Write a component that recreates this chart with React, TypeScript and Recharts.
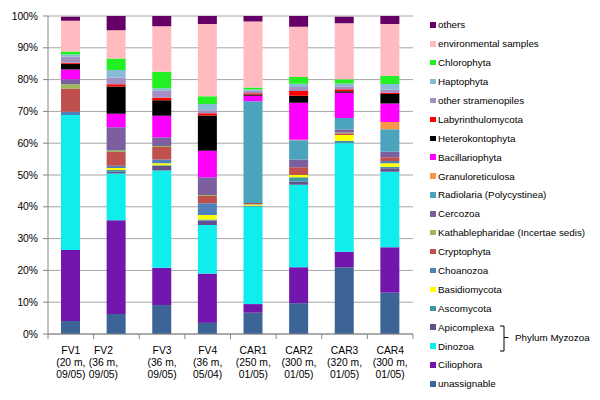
import React from 'react';
import { BarChart, Bar, XAxis, YAxis, CartesianGrid } from 'recharts';

const samples = ['FV1', 'FV2', 'FV3', 'FV4', 'CAR1', 'CAR2', 'CAR3', 'CAR4'];
const depths = ['(20 m,', '(36 m,', '(36 m,', '(36 m,', '(250 m,', '(300 m,', '(320 m,', '(300 m,'];
const dates = ['09/05)', '09/05)', '09/05)', '05/04)', '01/05)', '01/05)', '01/05)', '01/05)'];
const yTicks = [0, 10, 20, 30, 40, 50, 60, 70, 80, 90, 100];

// values in % per sample (FV1..CAR4), bottom of stack first
const unassignable = [4.1, 6.3, 9.1, 3.5, 6.7, 9.7, 21.0, 13.0];
const ciliophora = [22.3, 29.5, 11.7, 15.5, 2.7, 11.3, 4.9, 14.3];
const dinozoa = [42.5, 14.7, 30.6, 15.3, 30.6, 25.9, 34.1, 23.7];
const apicomplexa = [0, 0.5, 1.4, 1.4, 0, 1.0, 0, 1.1];
const ascomycota = [0, 0.6, 0.3, 0.3, 0.3, 1.4, 0.8, 0.5];
const basidiomycota = [0, 0.6, 0.6, 1.4, 0.4, 0.7, 1.8, 1.1];
const choanozoa = [1.0, 0.7, 1.2, 3.7, 0.2, 0, 0, 0.7];
const cryptophyta = [7.3, 4.3, 3.9, 2.3, 0.3, 2.4, 0.5, 1.2];
const kathablepharidae = [1.3, 0.5, 0.3, 0.3, 0, 0, 0.3, 0];
const cercozoa = [1.6, 7.3, 2.8, 5.6, 0, 2.5, 0.9, 1.7];
const radiolaria = [0, 0, 0, 0, 32.0, 6.0, 3.6, 7.1];
const granuloreticulosa = [0, 0, 0, 0, 0, 0.2, 0, 2.3];
const bacillariophyta = [3.1, 4.3, 6.7, 8.3, 1.7, 11.6, 8.0, 5.8];
const heterokontophyta = [1.8, 8.5, 4.9, 11.1, 0.4, 2.2, 0.4, 3.0];
const labyrinthulomycota = [0.3, 0.7, 0.8, 0.7, 0.4, 1.5, 0.7, 0.4];
const otherStramenopiles = [2.0, 2.1, 2.2, 1.0, 0.8, 1.3, 0.9, 1.0];
const haptophyta = [0.6, 2.4, 0.8, 1.9, 0.4, 1.0, 0.9, 1.7];
const chlorophyta = [0.9, 3.6, 5.2, 2.5, 0.6, 2.1, 1.3, 2.5];
const environmental = [9.7, 8.9, 14.3, 22.7, 20.8, 15.8, 17.6, 16.4];
const others = [1.3, 4.7, 3.2, 2.5, 1.7, 3.6, 2.1, 2.5];

const series = [
  { key: 'unassignable', name: 'unassignable', color: '#3C6496', values: unassignable },
  { key: 'ciliophora', name: 'Ciliophora', color: '#7216AE', values: ciliophora },
  { key: 'dinozoa', name: 'Dinozoa', color: '#0FEDED', values: dinozoa },
  { key: 'apicomplexa', name: 'Apicomplexa', color: '#66508C', values: apicomplexa },
  { key: 'ascomycota', name: 'Ascomycota', color: '#3F97A6', values: ascomycota },
  { key: 'basidiomycota', name: 'Basidiomycota', color: '#FFFF00', values: basidiomycota },
  { key: 'choanozoa', name: 'Choanozoa', color: '#4F81BD', values: choanozoa },
  { key: 'cryptophyta', name: 'Cryptophyta', color: '#C0504D', values: cryptophyta },
  { key: 'kathablepharidae', name: 'Kathablepharidae (Incertae sedis)', color: '#9BBB59', values: kathablepharidae },
  { key: 'cercozoa', name: 'Cercozoa', color: '#7B5FA0', values: cercozoa },
  { key: 'radiolaria', name: 'Radiolaria (Polycystinea)', color: '#4BA3BE', values: radiolaria },
  { key: 'granuloreticulosa', name: 'Granuloreticulosa', color: '#F79646', values: granuloreticulosa },
  { key: 'bacillariophyta', name: 'Bacillariophyta', color: '#FF00FF', values: bacillariophyta },
  { key: 'heterokontophyta', name: 'Heterokontophyta', color: '#000000', values: heterokontophyta },
  { key: 'labyrinthulomycota', name: 'Labyrinthulomycota', color: '#FF0000', values: labyrinthulomycota },
  { key: 'otherStramenopiles', name: 'other stramenopiles', color: '#A490C2', values: otherStramenopiles },
  { key: 'haptophyta', name: 'Haptophyta', color: '#87BBD6', values: haptophyta },
  { key: 'chlorophyta', name: 'Chlorophyta', color: '#22F022', values: chlorophyta },
  { key: 'environmental', name: 'environmental samples', color: '#FFBBC0', values: environmental },
  { key: 'others', name: 'others', color: '#660066', values: others },
];

const data = samples.map((s, i) => {
  const row: Record<string, any> = { sample: s, depth: depths[i], date: dates[i] };
  series.forEach((ser) => {
    row[ser.key] = ser.values[i];
  });
  return row;
});

const FONT = '"Liberation Sans", Arial, sans-serif';
const AXIS_COLOR = '#868686';
const GRID_COLOR = '#A6A6A6';
const PLOT_LEFT = 48;
const PLOT_RIGHT = 413;
const BAND = (PLOT_RIGHT - PLOT_LEFT) / samples.length;

const XTick = (props: any) => {
  const { x, y, payload, index } = props;
  const half = BAND / 2;
  const i = payload.index ?? index;
  const dx = i === 1 ? -13 : 0;
  const tx = x + dx;
  return (
    <g>
      <line x1={x - half} y1={y} x2={x - half} y2={y + 5} stroke={AXIS_COLOR} />
      {i === samples.length - 1 && (
        <line x1={x + half} y1={y} x2={x + half} y2={y + 5} stroke={AXIS_COLOR} />
      )}
      <text textAnchor="middle" fontSize={10.3} fontFamily={FONT} fill="#000">
        <tspan x={tx} y={y + 20.3}>{samples[i]}</tspan>
        <tspan x={tx} y={y + 32}>{depths[i]}</tspan>
        <tspan x={tx} y={y + 43.7}>{dates[i]}</tspan>
      </text>
    </g>
  );
};

const legendItems = [...series].reverse();

export default function App() {
  return (
    <div style={{ position: 'absolute', left: 0, top: 0, width: 600, height: 400, background: '#fff', fontFamily: FONT }}>
      <BarChart
        width={600}
        height={400}
        data={data}
        margin={{ top: 16, right: 600 - PLOT_RIGHT, bottom: 0, left: 0 }}
        barSize={19}
      >
        <CartesianGrid vertical={false} stroke={GRID_COLOR} strokeWidth={1} />
        <XAxis
          dataKey="sample"
          interval={0}
          height={66}
          tickLine={false}
          tickSize={0}
          tickMargin={0}
          axisLine={{ stroke: AXIS_COLOR }}
          tick={<XTick />}
        />
        <YAxis
          width={PLOT_LEFT}
          domain={[0, 100]}
          ticks={yTicks}
          allowDataOverflow
          tickFormatter={(v: number) => `${v}%`}
          tick={{ fontSize: 10.3, fill: '#000', fontFamily: FONT }}
          tickSize={5}
          tickMargin={5}
          tickLine={{ stroke: AXIS_COLOR }}
          axisLine={{ stroke: AXIS_COLOR }}
        />
        {series.map((s) => (
          <Bar key={s.key} dataKey={s.key} name={s.name} stackId="a" fill={s.color} isAnimationActive={false} />
        ))}
      </BarChart>
      <div style={{ position: 'absolute', left: 430, top: 15.5, width: 170 }}>
        {legendItems.map((s) => (
          <div key={s.key} style={{ height: 18.9, display: 'flex', alignItems: 'center', fontSize: 9.8, color: '#000', whiteSpace: 'nowrap' }}>
            <span style={{ display: 'inline-block', width: 5.5, height: 5.5, background: s.color, marginRight: 2.5 }} />
            <span>{s.name}</span>
          </div>
        ))}
      </div>
      <svg style={{ position: 'absolute', left: 0, top: 0 }} width={600} height={400} pointerEvents="none">
        <path d="M500 326 H504 V351 H500 M504 337.5 H508.5" fill="none" stroke="#000" strokeWidth={1} />
        <text x={515} y={341} fontSize={9.8} fontFamily={FONT} fill="#000">Phylum Myzozoa</text>
      </svg>
    </div>
  );
}
